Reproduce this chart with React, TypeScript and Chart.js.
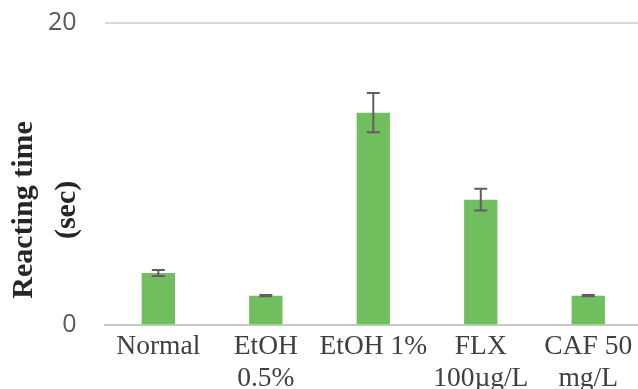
import React, { useEffect, useRef } from "react";
import { Chart, registerables } from "chart.js";

Chart.register(...registerables);

const categories: (string | string[])[] = [
  "Normal",
  ["EtOH", "0.5%"],
  "EtOH 1%",
  ["FLX", "100µg/L"],
  ["CAF 50", "mg/L"],
];
const values = [3.45, 1.95, 14.05, 8.3, 1.95];
const errors = [0.2, 0.04, 1.3, 0.72, 0.04];
const yTicks = [0, 20];
const yTitle = ["Reacting time", "(sec)"];

const errorBarPlugin = {
  id: "errorBars",
  afterDatasetsDraw(chart: any) {
    const ctx = chart.ctx;
    const meta = chart.getDatasetMeta(0);
    const ys = chart.scales.y;
    ctx.save();
    ctx.strokeStyle = "#5f5f5f";
    ctx.lineWidth = 2;
    meta.data.forEach((bar: any, i: number) => {
      const x = bar.x;
      const top = ys.getPixelForValue(values[i] + errors[i]);
      const bot = ys.getPixelForValue(values[i] - errors[i]);
      const cap = 6.5;
      ctx.beginPath();
      ctx.moveTo(x, top);
      ctx.lineTo(x, bot);
      ctx.moveTo(x - cap, top);
      ctx.lineTo(x + cap, top);
      ctx.moveTo(x - cap, bot);
      ctx.lineTo(x + cap, bot);
      ctx.stroke();
    });
    ctx.restore();
  },
};

const yTitlePlugin = {
  id: "yTitleCustom",
  afterDraw(chart: any) {
    const ctx = chart.ctx;
    const area = chart.chartArea;
    const cy = (area.top + area.bottom) / 2 + 36;
    ctx.save();
    ctx.translate(45.5, cy);
    ctx.rotate(-Math.PI / 2);
    ctx.font = "bold 30px 'Liberation Serif', 'Times New Roman', serif";
    ctx.fillStyle = "#262626";
    ctx.textAlign = "center";
    ctx.textBaseline = "middle";
    ctx.fillText(yTitle[0], 0, -21.5);
    ctx.fillText(yTitle[1], 0, 21.5);
    ctx.restore();
  },
};

export default function App() {
  const ref = useRef<HTMLCanvasElement | null>(null);
  useEffect(() => {
    if (!ref.current) return;
    const chart = new Chart(ref.current, {
      type: "bar",
      data: {
        labels: categories,
        datasets: [
          {
            data: values,
            backgroundColor: "rgb(113,190,95)",
            borderWidth: 0,
            categoryPercentage: 1,
            barPercentage: 0.31,
          },
        ],
      },
      options: {
        responsive: false,
        animation: false,
        layout: { padding: { top: 22.7, left: 20, right: 4, bottom: 0 } },
        plugins: {
          legend: { display: false },
          tooltip: { enabled: false },
        },
        scales: {
          x: {
            grid: { display: false, drawTicks: false },
            border: { display: true, color: "#c8c8c8", width: 2 },
            ticks: {
              color: "#404040",
              padding: 6,
              maxRotation: 0,
              autoSkip: false,
              font: { family: "'Liberation Serif', 'Times New Roman', serif", size: 27.5, lineHeight: 1.16 },
            },
          },
          y: {
            min: yTicks[0],
            max: yTicks[yTicks.length - 1],
            afterBuildTicks: (axis: any) => {
              axis.ticks = yTicks.map((v) => ({ value: v }));
            },
            afterFit: (axis: any) => {
              axis.paddingTop = 0;
            },
            grid: {
              color: "#d9d9d9",
              lineWidth: 2,
              drawTicks: false,
            },
            border: { display: false },
            ticks: {
              color: "#595959",
              padding: 28,
              font: { family: "'Open Sans', sans-serif", size: 25 },
            },
          },
        },
      },
      plugins: [errorBarPlugin, yTitlePlugin],
    });
    return () => chart.destroy();
  }, []);
  return (
    <div
      style={{
        position: "fixed",
        left: 0,
        top: 0,
        width: 638,
        height: 389,
        overflow: "hidden",
        background: "#fff",
      }}
    >
      <canvas ref={ref} width={646} height={401} style={{ display: "block" }} />
    </div>
  );
}
